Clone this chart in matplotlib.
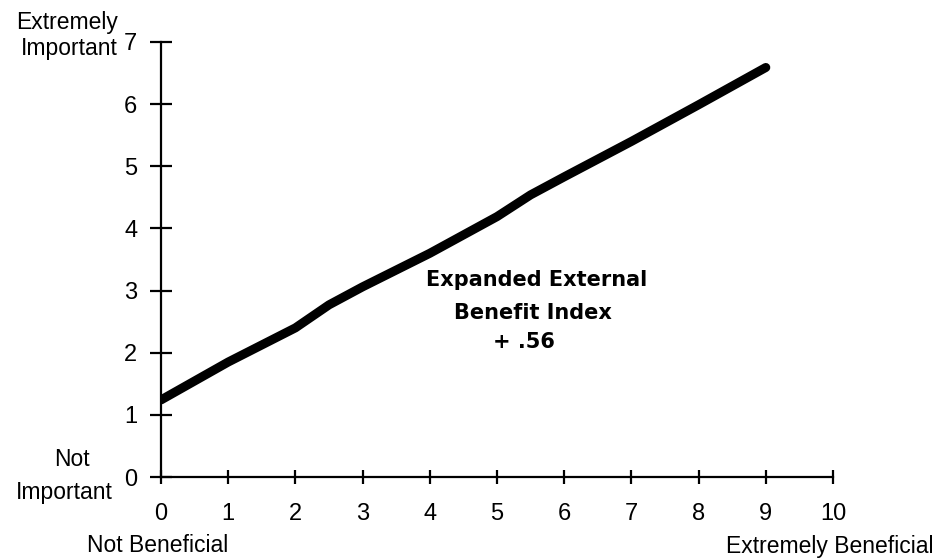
import numpy as np
import matplotlib.pyplot as plt

# benefit (x) vs importance (y)
benefit = [0, 1, 2, 2.5, 3, 4, 5, 5.5, 6, 7, 8, 9]
importance = [1.24, 1.85, 2.40, 2.77, 3.06, 3.60, 4.19, 4.54, 4.83, 5.40, 5.99, 6.59]
x_ticks = list(range(0, 11))
y_ticks = list(range(0, 8))

W, H = 943, 560
plt.rcParams['font.family'] = ['Liberation Sans', 'DejaVu Sans']

fig = plt.figure(figsize=(W / 100, H / 100), dpi=100)
ax = fig.add_axes([161 / W, 1 - 477 / H, (833 - 161) / W, (477 - 42) / H])

ax.plot(benefit, importance, color='black', lw=6.5, solid_capstyle='round',
        solid_joinstyle='round')

ax.set_xlim(0, 10)
ax.set_ylim(0, 7)
ax.set_xticks(x_ticks)
ax.set_yticks(y_ticks)
for s in ['top', 'right']:
    ax.spines[s].set_visible(False)
for s in ['left', 'bottom']:
    ax.spines[s].set_linewidth(1.6)
ax.tick_params(axis='x', direction='inout', length=10, width=1.6, pad=14, labelsize=17)
ax.tick_params(axis='y', direction='inout', length=16, width=1.6, pad=9, labelsize=17)


def px(x, y):
    return x / W, 1 - y / H


fs = 16.5
fig.text(*px(118, 22), 'Extremely', ha='right', va='center', fontsize=fs)
fig.text(*px(118, 48), 'Important', ha='right', va='center', fontsize=fs)
fig.text(*px(72, 459), 'Not', ha='center', va='center', fontsize=fs)
fig.text(*px(64, 492), 'Important', ha='center', va='center', fontsize=fs)
fig.text(*px(158, 546), 'Not Beneficial', ha='center', va='center', fontsize=fs)
fig.text(*px(933, 546), 'Extremely Beneficial', ha='right', va='center', fontsize=fs)

bold = dict(ha='center', va='center', fontsize=15, fontweight='bold', family=['DejaVu Sans'])
fig.text(*px(537, 280), 'Expanded External', **bold)
fig.text(*px(533, 313), 'Benefit Index', **bold)
fig.text(*px(524, 342), '+ .56', **bold)

fig.savefig('out.png', dpi=100)
